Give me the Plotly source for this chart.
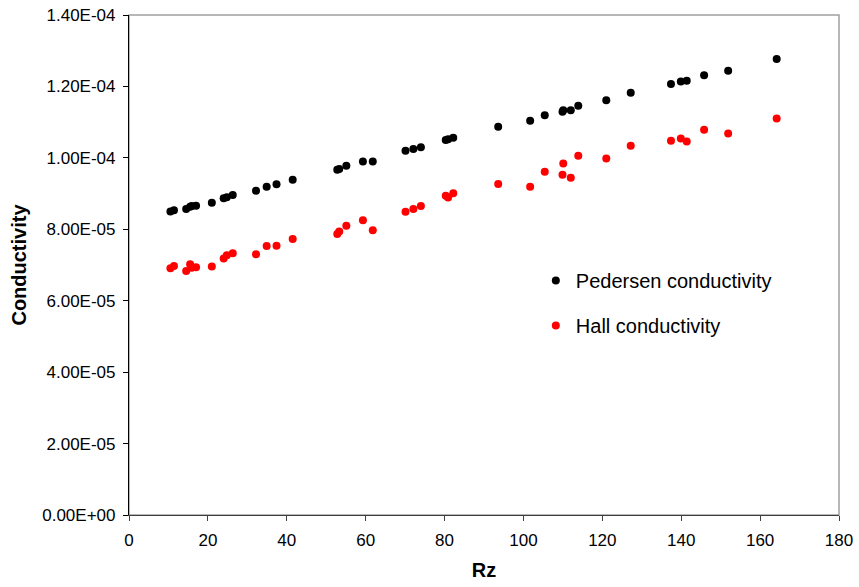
import plotly.graph_objects as go

rz = [10.5, 11.4, 14.5, 15.5, 15.9, 17.0, 21.0, 24.0, 24.8, 26.3,
      32.2, 34.9, 37.4, 41.5, 52.8, 53.3, 55.1, 59.3, 61.8, 70.1,
      72.1, 74.0, 80.3, 80.9, 82.2, 93.6, 101.7, 105.4, 109.9, 110.1,
      112.0, 113.9, 121.0, 127.2, 137.4, 139.9, 141.4, 145.8, 151.9, 164.2]

pedersen_e5 = [8.50, 8.53, 8.57, 8.63, 8.65, 8.66, 8.74, 8.87, 8.90, 8.96,
               9.08, 9.19, 9.26, 9.39, 9.67, 9.69, 9.78, 9.90, 9.90, 10.20,
               10.25, 10.30, 10.50, 10.52, 10.56, 10.87, 11.04, 11.19, 11.29, 11.33,
               11.33, 11.46, 11.61, 11.82, 12.07, 12.14, 12.16, 12.31, 12.44, 12.77]

hall_e5 = [6.91, 6.97, 6.83, 7.02, 6.92, 6.94, 6.96, 7.18, 7.27, 7.33,
           7.30, 7.53, 7.54, 7.73, 7.87, 7.94, 8.10, 8.25, 7.97, 8.49,
           8.57, 8.65, 8.94, 8.89, 9.01, 9.27, 9.19, 9.61, 9.53, 9.84,
           9.44, 10.06, 9.98, 10.34, 10.48, 10.54, 10.46, 10.79, 10.68, 11.10]

y_ticks = [0, 2e-5, 4e-5, 6e-5, 8e-5, 1e-4, 1.2e-4, 1.4e-4]
y_tick_labels = ["0.00E+00", "2.00E-05", "4.00E-05", "6.00E-05", "8.00E-05",
                 "1.00E-04", "1.20E-04", "1.40E-04"]
x_ticks = [0, 20, 40, 60, 80, 100, 120, 140, 160, 180]

pedersen = [v * 1e-5 for v in pedersen_e5]
hall = [v * 1e-5 for v in hall_e5]

FONT = "Liberation Sans, Arial, sans-serif"

fig = go.Figure()
fig.add_trace(go.Scatter(x=rz, y=pedersen, mode="markers", name="Pedersen conductivity",
                         legendgroup="p",
                         marker=dict(color="black", size=8, line=dict(width=0))))
fig.add_trace(go.Scatter(x=rz, y=hall, mode="markers", name="Hall conductivity",
                         legendgroup="h",
                         marker=dict(color="#ff0000", size=8, line=dict(width=0))))

fig.update_layout(
    width=859, height=587,
    margin=dict(l=129, r=20, t=15, b=72),
    paper_bgcolor="white", plot_bgcolor="white",
    font=dict(family=FONT, color="black", size=17),
    showlegend=True,
    legend=dict(x=0.573, y=0.508, xanchor="left", yanchor="top",
                font=dict(family=FONT, size=20, color="black"),
                tracegroupgap=16, itemsizing="trace", itemwidth=30,
                bgcolor="rgba(0,0,0,0)"),
    shapes=[dict(type="rect", xref="paper", yref="paper", x0=0, y0=0, x1=1, y1=1,
                 line=dict(color="#a0a0a0", width=1.5), layer="below")],
)

fig.update_xaxes(
    range=[0, 180], tickmode="array", tickvals=x_ticks, automargin=False,
    ticks="outside", ticklen=5, tickcolor="#404040", tickwidth=1,
    showline=True, linecolor="#404040", linewidth=1.2,
    showgrid=False, zeroline=False,
    tickfont=dict(size=17, family=FONT), ticklabelstandoff=4,
    title=dict(text="<b>Rz</b>", font=dict(size=20, family=FONT), standoff=14),
)
fig.update_yaxes(
    range=[0, 1.4e-4], tickmode="array", tickvals=y_ticks, ticktext=y_tick_labels,
    automargin=False,
    ticks="outside", ticklen=5, tickcolor="black", tickwidth=1,
    showline=True, linecolor="black", linewidth=1.2,
    showgrid=False, zeroline=False,
    tickfont=dict(size=17, family=FONT), ticklabelstandoff=4,
    title=dict(text="<b>Conductivity</b>", font=dict(size=20, family=FONT), standoff=10),
)

fig.write_html("out.html")
